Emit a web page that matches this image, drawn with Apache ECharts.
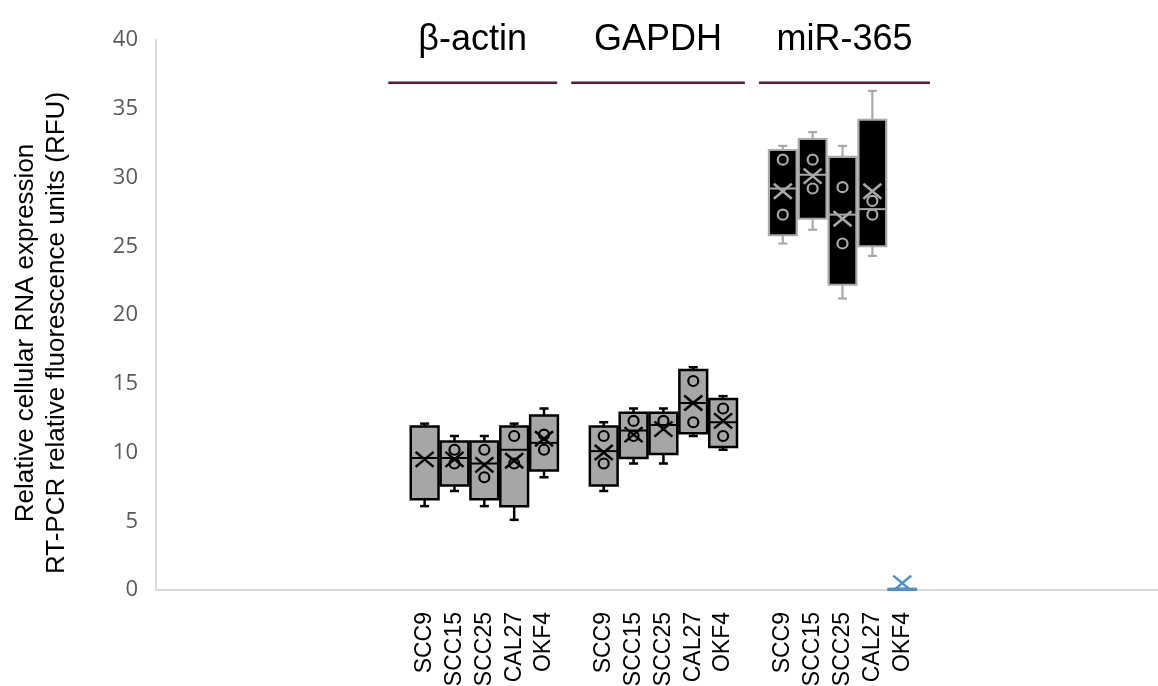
<!DOCTYPE html>
<html><head><meta charset="utf-8">
<script src="https://cdn.jsdelivr.net/npm/echarts@6/dist/echarts.min.js"></script>
<style>html,body{margin:0;padding:0;background:#fff}#c{width:1158px;height:686px}</style>
</head><body><div id="c"></div>
<script>
// ---- data ----
const groups = ['β-actin', 'GAPDH', 'miR-365'];
const cellLines = ['SCC9', 'SCC15', 'SCC25', 'CAL27', 'OKF4'];
const yTicks = [0, 5, 10, 15, 20, 25, 30, 35, 40];
// per box (15 boxes: group-major order)
const whiskerLow  = [6.1, 7.2, 6.1, 5.1, 8.2,   7.2, 9.2, 9.2, 11.2, 10.2,   25.2, 26.2, 21.2, 24.3, 0.0];
const quartile1   = [6.6, 7.6, 6.6, 6.1, 8.7,   7.6, 9.6, 9.9, 11.4, 10.4,   25.8, 27.0, 22.2, 25.0, 0.0];
const medians     = [9.6, 9.6, 9.2, 10.2, 10.7, 10.1, 11.6, 12.0, 13.6, 12.2,  29.2, 30.2, 27.3, 27.7, 0.05];
const quartile3   = [11.9, 10.8, 10.8, 11.9, 12.7, 11.9, 12.9, 12.9, 16.0, 13.9, 32.0, 32.8, 31.5, 34.2, 0.1];
const whiskerHigh = [12.1, 11.2, 11.2, 12.1, 13.2, 12.2, 13.2, 13.2, 16.2, 14.1, 32.3, 33.3, 32.3, 36.3, 0.1];
const means       = [9.5, 9.5, 9.1, 9.4, 11.0,  10.0, 11.3, 11.7, 13.6, 12.3,  29.0, 30.1, 27.0, 29.0, 0.5];
const innerPoints = [
  [], [10.2, 9.2], [10.2, 8.2], [11.2, 9.2], [11.3, 10.2],
  [11.2, 9.2], [12.3, 11.2], [12.3], [15.2, 12.2], [13.2, 11.2],
  [31.3, 27.3], [31.3, 29.2], [29.3, 25.2], [28.3, 27.3], []
];
// group header bars (in x-axis units) and their y level
const headerStart = [7.78, 13.91, 20.2];
const headerEnd   = [13.44, 19.73, 25.93];
const headerLineY = 36.9;
const headerTextY = 40;

// ---- layout helpers ----
const leadingBlank = 9;
const xLabels = [];
for (let i = 0; i < leadingBlank; i++) xLabels.push('');
const boxSlot = [];
groups.forEach((g, gi) => {
  if (gi > 0) xLabels.push('');
  cellLines.forEach(c => { boxSlot.push(xLabels.length); xLabels.push(c); });
});

const boxData = boxSlot.map((s, i) => [s, whiskerLow[i], quartile1[i], medians[i], quartile3[i], whiskerHigh[i], means[i]]);
const headerData = groups.map((g, gi) => [headerStart[gi], headerEnd[gi], headerLineY, headerTextY, gi]);

const chart = echarts.init(document.getElementById('c'), null, {renderer: 'canvas'});

function boxRender(params, api) {
  const i = params.dataIndex;
  const g = Math.floor(i / 5);
  const x = api.value(0);
  const cx = api.coord([x, 0])[0];
  const yv = k => api.coord([x, api.value(k)])[1];
  const yMin = yv(1), yQ1 = yv(2), yMed = yv(3), yQ3 = yv(4), yMax = yv(5), yMean = yv(6);
  const bw = api.size([1, 0])[0] * 0.93;
  let fill, edge, lw;
  if (g < 2) { fill = '#a6a6a6'; edge = '#000000'; lw = 2.5; }
  else { fill = '#000000'; edge = '#a9a9a9'; lw = 2.2; }
  if (i === 14) { fill = 'none'; edge = '#4f8fc8'; lw = 2; }
  const cap = 4.5;
  const ch = [];
  ch.push({type: 'line', shape: {x1: cx, y1: yMax, x2: cx, y2: yQ3}, style: {stroke: edge, lineWidth: lw}});
  ch.push({type: 'line', shape: {x1: cx, y1: yQ1, x2: cx, y2: yMin}, style: {stroke: edge, lineWidth: lw}});
  ch.push({type: 'line', shape: {x1: cx - cap, y1: yMax, x2: cx + cap, y2: yMax}, style: {stroke: edge, lineWidth: lw}});
  ch.push({type: 'line', shape: {x1: cx - cap, y1: yMin, x2: cx + cap, y2: yMin}, style: {stroke: edge, lineWidth: lw}});
  ch.push({type: 'rect', shape: {x: cx - bw / 2, y: yQ3, width: bw, height: Math.max(yQ1 - yQ3, 1)},
    style: {fill: fill, stroke: edge, lineWidth: lw}});
  ch.push({type: 'line', shape: {x1: cx - bw / 2, y1: yMed, x2: cx + bw / 2, y2: yMed}, style: {stroke: edge, lineWidth: 2}});
  const mx = 9, my = 7.5;
  ch.push({type: 'line', shape: {x1: cx - mx, y1: yMean - my, x2: cx + mx, y2: yMean + my}, style: {stroke: edge, lineWidth: 2.6}});
  ch.push({type: 'line', shape: {x1: cx - mx, y1: yMean + my, x2: cx + mx, y2: yMean - my}, style: {stroke: edge, lineWidth: 2.6}});
  innerPoints[i].forEach(p => {
    const py = api.coord([x, p])[1];
    ch.push({type: 'circle', shape: {cx: cx, cy: py, r: 5}, style: {fill: 'none', stroke: edge, lineWidth: 2.2}});
  });
  return {type: 'group', children: ch};
}

function headerRender(params, api) {
  const a = api.coord([api.value(0), api.value(2)]);
  const b = api.coord([api.value(1), api.value(2)]);
  const t = api.coord([(api.value(0) + api.value(1)) / 2, api.value(3)]);
  return {type: 'group', children: [
    {type: 'line', shape: {x1: a[0], y1: a[1], x2: b[0], y2: b[1]}, style: {stroke: '#5e1838', lineWidth: 2.5}},
    {type: 'text', x: t[0], y: t[1], style: {text: groups[api.value(4)], fill: '#000', font: '36px "Liberation Sans", Arial, sans-serif', textAlign: 'center', textVerticalAlign: 'middle'}}
  ]};
}

chart.setOption({
  animation: false,
  backgroundColor: '#fff',
  grid: {left: 156, right: 0, top: 40, bottom: 96, containLabel: false, outerBoundsMode: 'none'},
  xAxis: {
    type: 'value', min: 0, max: 33.57, interval: 1,
    axisLine: {show: true, lineStyle: {color: '#d9d9d9', width: 2}},
    axisTick: {show: false}, splitLine: {show: false},
    axisLabel: {
      rotate: 90, margin: 22, color: '#000', fontSize: 23, fontFamily: '"Liberation Sans", Arial, sans-serif',
      showMaxLabel: false, hideOverlap: false,
      formatter: v => (Number.isInteger(v) && xLabels[v]) ? xLabels[v] : ''
    }
  },
  yAxis: {
    type: 'value', min: yTicks[0], max: yTicks[yTicks.length - 1], interval: 5,
    axisLine: {show: true, lineStyle: {color: '#d9d9d9', width: 2}},
    axisTick: {show: false}, splitLine: {show: false},
    axisLabel: {margin: 18, color: '#595959', fontSize: 22, fontFamily: '"Open Sans", sans-serif'}
  },
  graphic: [
    {type: 'text', x: 26, y: 333, rotation: Math.PI / 2, style: {text: 'Relative cellular RNA expression', fill: '#000', font: '26px "Liberation Sans", Arial, sans-serif', textAlign: 'center', textVerticalAlign: 'middle'}},
    {type: 'text', x: 57, y: 333, rotation: Math.PI / 2, style: {text: 'RT-PCR relative fluorescence units (RFU)', fill: '#000', font: '26px "Liberation Sans", Arial, sans-serif', textAlign: 'center', textVerticalAlign: 'middle'}}
  ],
  series: [
    {type: 'custom', renderItem: boxRender, data: boxData, clip: false, encode: {x: 0, y: [1, 2, 3, 4, 5, 6]}},
    {type: 'custom', renderItem: headerRender, data: headerData, clip: false, encode: {x: [0, 1], y: [2, 3]}}
  ]
});
</script></body></html>
